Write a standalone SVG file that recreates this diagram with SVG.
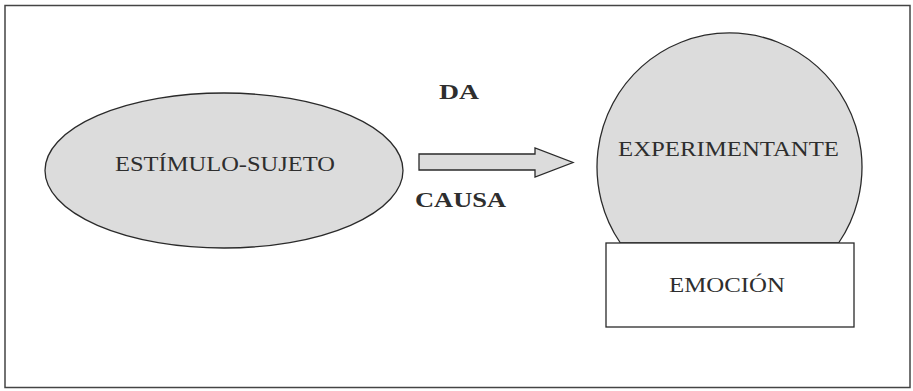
<svg xmlns="http://www.w3.org/2000/svg" width="913" height="391" viewBox="0 0 913 391">
<defs>
<style>
.shape{fill:#dcdcdc;stroke:#2a2a2a;stroke-width:1.3}
.box{fill:#ffffff;stroke:#2a2a2a;stroke-width:1.3}
.lbl{font-family:"Liberation Serif","DejaVu Serif",serif;font-size:21px;fill:#2e2e2e;text-anchor:middle}
.bold{font-weight:bold;font-size:20px}
</style>
</defs>
<rect x="0" y="0" width="913" height="391" fill="#ffffff"/>
<rect x="5" y="5.5" width="905" height="382" fill="none" stroke="#444" stroke-width="1.5"/>
<g id="estimulo">
<ellipse class="shape" cx="224" cy="170.5" rx="179" ry="77.5"/>
<text class="lbl" x="225" y="171" textLength="220" lengthAdjust="spacingAndGlyphs">ESTÍMULO-SUJETO</text>
</g>
<g id="connectors">
<polygon class="shape" points="419,154 535,154 535,148 573,162.5 535,177 535,170 419,170"/>
<text class="lbl bold" x="459" y="99" textLength="40" lengthAdjust="spacingAndGlyphs">DA</text>
<text class="lbl bold" x="460.5" y="207" textLength="91" lengthAdjust="spacingAndGlyphs">CAUSA</text>
</g>
<g id="experimentante">
<path class="shape" d="M620.4,243 A132.5,134 0 1 1 838.6,243 Z"/>
<text class="lbl" x="728.5" y="156" textLength="221" lengthAdjust="spacingAndGlyphs">EXPERIMENTANTE</text>
</g>
<g id="emocion">
<rect class="box" x="606" y="243" width="248" height="84"/>
<text class="lbl" x="727" y="292" textLength="116" lengthAdjust="spacingAndGlyphs">EMOCIÓN</text>
</g>
</svg>
